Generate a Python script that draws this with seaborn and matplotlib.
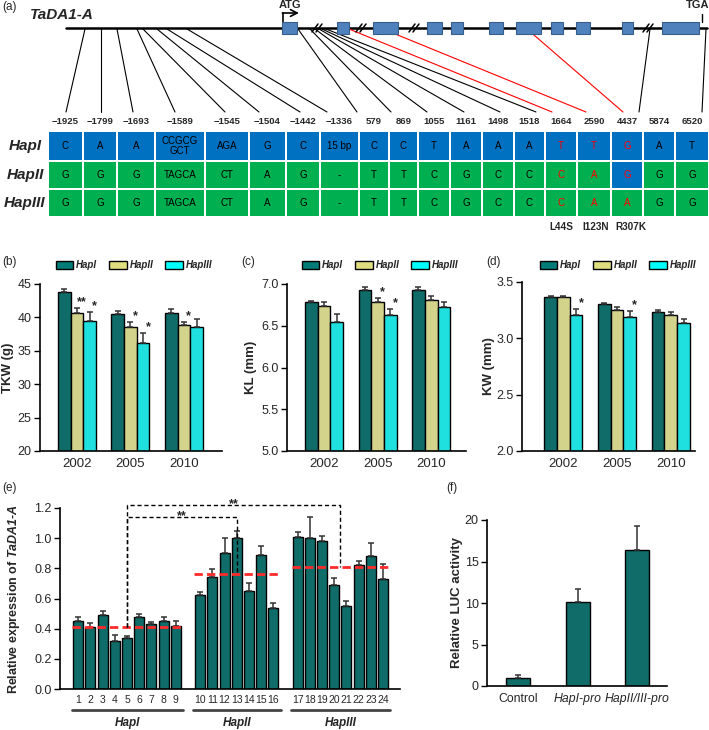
import numpy as np
import pandas as pd
import matplotlib
matplotlib.use('Agg')
import matplotlib.pyplot as plt
import matplotlib.transforms as mtransforms
from matplotlib.colors import ListedColormap
from matplotlib.patches import Patch, Rectangle
import seaborn as sns

sns.set_theme(style="ticks")
plt.rcParams['font.family'] = ['Liberation Sans', 'DejaVu Sans']
plt.rcParams['mathtext.fontset'] = 'custom'
plt.rcParams['mathtext.rm'] = 'Liberation Sans'
plt.rcParams['mathtext.it'] = 'Liberation Sans:italic'
plt.rcParams['mathtext.bf'] = 'Liberation Sans:bold'
plt.rcParams['mathtext.bfit'] = 'Liberation Sans:bold:italic'

# ---------------- data ----------------
# (a) gene structure and haplotype table
sites = ['\u22121925', '\u22121799', '\u22121693', '\u22121589', '\u22121545', '\u22121504',
         '\u22121442', '\u22121336', '579', '869', '1055', '1161', '1498', '1518',
         '1664', '2590', '4437', '5874', '6520']
site_on_gene = [85, 101, 117, 137, 143, 157, 167, 187, 298, 310, 315, 319, 322, 326,
                349, 383, 527, 650, 706]
site_line_end = [66, 101, 133, 175, 225, 259, 300, 327, 357, 391, 427, 464, 500, 536,
                 552, 586, 623, 639, 702]
exon_start = [282, 337, 373, 427, 451, 489, 516, 551, 576, 622, 662]
exon_end = [297, 349, 398, 442, 463, 503, 541, 563, 590, 633, 699]
gene_breaks = [317, 361, 414, 648]
col_edges = [48, 83, 117, 155, 205, 249, 286, 320, 359, 389, 418, 450, 482, 514, 545,
             577, 611, 643, 675, 709]
row_edges = [131, 161, 189, 217]
hap_names = ['HapI', 'HapII', 'HapIII']
alleles = [
    ['C', 'A', 'A', 'CCGCG\nGCT', 'AGA', 'G', 'C', '15 bp', 'C', 'C', 'T', 'A', 'A', 'A', 'T', 'T', 'G', 'A', 'T'],
    ['G', 'G', 'G', 'TAGCA', 'CT', 'A', 'G', '-', 'T', 'T', 'C', 'G', 'C', 'C', 'C', 'A', 'G', 'G', 'G'],
    ['G', 'G', 'G', 'TAGCA', 'CT', 'A', 'G', '-', 'T', 'T', 'C', 'G', 'C', 'C', 'C', 'A', 'A', 'G', 'G'],
]
cell_group = [
    [0] * 19,
    [1] * 16 + [0] + [1] * 2,
    [1] * 19,
]
coding_cols = [14, 15, 16]
aa_changes = ['L44S', 'I123N', 'R307K']

# (b)-(d) grain traits
years = ['2002', '2005', '2010']
haps = ['HapI', 'HapII', 'HapIII']
tkw_mean = {'HapI': [43.8, 40.5, 40.7], 'HapII': [40.7, 38.6, 38.8], 'HapIII': [39.5, 36.2, 38.5]}
tkw_err = {'HapI': [0.4, 0.5, 0.5], 'HapII': [0.7, 0.7, 0.5], 'HapIII': [1.3, 1.4, 1.2]}
kl_mean = {'HapI': [6.78, 6.93, 6.93], 'HapII': [6.74, 6.78, 6.81], 'HapIII': [6.54, 6.63, 6.72]}
kl_err = {'HapI': [0.02, 0.03, 0.03], 'HapII': [0.05, 0.05, 0.05], 'HapIII': [0.10, 0.07, 0.07]}
kw_mean = {'HapI': [3.365, 3.307, 3.233], 'HapII': [3.365, 3.254, 3.21], 'HapIII': [3.21, 3.19, 3.14]}
kw_err = {'HapI': [0.013, 0.006, 0.017], 'HapII': [0.013, 0.023, 0.023], 'HapIII': [0.05, 0.05, 0.035]}
tkw_stars = [('2002', 'HapII', '**'), ('2002', 'HapIII', '*'), ('2005', 'HapII', '*'),
             ('2005', 'HapIII', '*'), ('2010', 'HapII', '*')]
kl_stars = [('2005', 'HapII', '*'), ('2005', 'HapIII', '*')]
kw_stars = [('2002', 'HapIII', '*'), ('2005', 'HapIII', '*')]

# (e) expression in 24 accessions
expr_group = [0] * 9 + [1] * 7 + [2] * 8
expr_mean = [0.45, 0.41, 0.49, 0.32, 0.34, 0.48, 0.43, 0.45, 0.42,
             0.62, 0.74, 0.90, 1.00, 0.65, 0.89, 0.54,
             1.01, 1.00, 0.98, 0.69, 0.55, 0.82, 0.88, 0.73]
expr_err = [0.03, 0.025, 0.025, 0.04, 0.012, 0.015, 0.011, 0.025, 0.033,
            0.022, 0.054, 0.10, 0.045, 0.056, 0.055, 0.033,
            0.03, 0.14, 0.036, 0.045, 0.033, 0.03, 0.09, 0.10]
group_mean = [0.41, 0.765, 0.81]
# brackets: (left bar index, right position in bar units, left group, right group, height)
brackets = [(4, 13, 0, 1, 1.143), (4, 21.5, 0, 2, 1.223)]

# (f) promoter activity
luc_labels = ['Control', 'HapI-pro', 'HapII/III-pro']
luc_mean = [1.0, 10.15, 16.35]
luc_err = [0.3, 1.55, 2.95]

teal = '#007B77'
hap_colors = ['#007B77', '#E0DF80', '#00FFFF']
W, H = 709, 730

fig = plt.figure(figsize=(W / 100, H / 100), dpi=100)


def px_axes(x0, y0, x1, y1):
    return fig.add_axes([x0 / W, 1 - y1 / H, (x1 - x0) / W, (y1 - y0) / H])


def style_axes(ax, ylabel, label_px, fs=9.5):
    sns.despine(ax=ax)
    for s in ['left', 'bottom']:
        ax.spines[s].set_color('black')
        ax.spines[s].set_linewidth(1.2)
    ax.tick_params(axis='y', length=4, width=1, color='black', labelsize=9, pad=2)
    ax.tick_params(axis='x', length=0, labelsize=9.5, pad=5)
    ax.set_xlabel('')
    ax.set_ylabel(ylabel, fontsize=fs, fontweight='bold')
    tr = mtransforms.blended_transform_factory(fig.transFigure, ax.transAxes)
    ax.yaxis.set_label_coords(label_px / W, 0.5, transform=tr)


# ---------------- (a) ----------------
axa = px_axes(0, 0, W, 240)
axa.set_xlim(0, W)
axa.set_ylim(240, 0)
axa.axis('off')

gene_y = 28
axa.plot([66, 707], [gene_y, gene_y], color='black', lw=1.8, zorder=2)
for s, e in zip(exon_start, exon_end):
    axa.add_patch(Rectangle((s, 22), e - s, 12, facecolor='#4F81BD', edgecolor='#385D8A',
                            lw=0.8, zorder=4))
for b in gene_breaks:
    for dx in (-2, 2):
        axa.plot([b + dx - 3, b + dx + 3], [gene_y + 4, gene_y - 4], color='black', lw=1.1, zorder=5)
for i, (top, bot) in enumerate(zip(site_on_gene, site_line_end)):
    col = '#FF0000' if i in coding_cols else 'black'
    axa.plot([top, bot], [gene_y + 1, 112], color=col, lw=0.8, zorder=3)
    axa.text((col_edges[i] + col_edges[i + 1]) / 2, 121, sites[i], ha='center', va='center',
             fontsize=6.8, fontweight='bold')

# start / stop codons
axa.plot([283, 283], [22, 13], color='black', lw=1.2)
axa.annotate('', xy=(299, 13), xytext=(282.4, 13),
             arrowprops=dict(arrowstyle='->', lw=1.2, color='black', shrinkA=0, shrinkB=0))
axa.text(290, 5, 'ATG', ha='center', va='center', fontsize=8, fontweight='bold')
axa.plot([702, 702], [14, 22], color='black', lw=1.0)
axa.text(698, 5, 'TGA', ha='center', va='center', fontsize=8, fontweight='bold')
axa.text(30, 15, 'TaDA1-A', ha='left', va='center', fontsize=11, fontweight='bold', style='italic')

# haplotype table
axa.pcolormesh(col_edges, row_edges, np.array(cell_group),
               cmap=ListedColormap(['#0070C0', '#00B050']), vmin=0, vmax=1,
               edgecolors='white', linewidth=1.2, zorder=1)
for r, name in enumerate(hap_names):
    yc = (row_edges[r] + row_edges[r + 1]) / 2
    axa.text(25, yc, name, ha='center', va='center', fontsize=11, fontweight='bold', style='italic')
    for c, allele in enumerate(alleles[r]):
        xc = (col_edges[c] + col_edges[c + 1]) / 2
        axa.text(xc, yc, allele, ha='center', va='center', fontsize=7, linespacing=1.0,
                 color='#FF0000' if c in coding_cols else 'black', zorder=3)
for c, aa in zip(coding_cols, aa_changes):
    axa.text((col_edges[c] + col_edges[c + 1]) / 2 + (c - 14) * 2, 227, aa, ha='center',
             va='center', fontsize=7.2, fontweight='bold')


# ---------------- (b)-(d) ----------------
def trait_frame(means, errs):
    rows = []
    for h in haps:
        for j, y in enumerate(years):
            rows.append(dict(year=y, hap=h, value=means[h][j], err=errs[h][j]))
    return pd.DataFrame(rows)


def draw_trait(ax, means, errs, ylim, yticks, ylabel, label_px, stars, legend_px, xlim):
    df = trait_frame(means, errs)
    sns.barplot(data=df, x='year', y='value', hue='hap', order=years, hue_order=haps,
                palette=hap_colors, width=0.71, edgecolor='black', linewidth=1,
                errorbar=None, legend=False, ax=ax, zorder=2)
    tops = {}
    for h, cont in zip(haps, ax.containers):
        for y, bar in zip(years, cont):
            xc = bar.get_x() + bar.get_width() / 2
            m = means[h][years.index(y)]
            e = errs[h][years.index(y)]
            ax.errorbar(xc, m, yerr=[[0], [e]], fmt='none', ecolor='#333333',
                        elinewidth=1.1, capsize=2.2, capthick=1.1, zorder=3)
            tops[(y, h)] = (xc, m + e)
    for y, h, txt in stars:
        xc, top = tops[(y, h)]
        ax.text(xc + 0.09, top, txt, ha='center', va='bottom', fontsize=9, fontweight='bold')
    ax.set_ylim(*ylim)
    ax.set_yticks(yticks)
    ax.set_xlim(*xlim)
    style_axes(ax, ylabel, label_px)
    handles = [Patch(facecolor=c, edgecolor='black', label=h) for h, c in zip(haps, hap_colors)]
    ax.legend(handles=handles, loc='center', bbox_to_anchor=(legend_px / W, 1 - 265 / H),
              bbox_transform=fig.transFigure, ncol=3, frameon=False,
              prop={'weight': 'bold', 'style': 'italic', 'size': 7},
              handlelength=1.8, handleheight=0.9, handletextpad=0.3, columnspacing=1.2,
              borderaxespad=0)


axb = px_axes(40, 284, 222, 451)
draw_trait(axb, tkw_mean, tkw_err, (20, 45), [20, 25, 30, 35, 40, 45], 'TKW (g)', 14,
           tkw_stars, 134, (-0.69, 2.71))
axc = px_axes(287, 284, 466, 451)
draw_trait(axc, kl_mean, kl_err, (5, 7), [5.0, 5.5, 6.0, 6.5, 7.0], 'KL (mm)', 257,
           kl_stars, 380, (-0.69, 2.65))
axc.set_yticklabels(['5.0', '5.5', '6.0', '6.5', '7.0'])
axd = px_axes(522, 282, 695, 451)
draw_trait(axd, kw_mean, kw_err, (2, 3.5), [2.0, 2.5, 3.0, 3.5], 'KW (mm)', 495,
           kw_stars, 618, (-0.77, 2.45))
axd.set_yticklabels(['2.0', '2.5', '3.0', '3.5'])

# ---------------- (e) ----------------
axe = px_axes(60, 508, 400, 689)
expr_pos = [i + g for i, g in enumerate(expr_group)]
sns.barplot(x=expr_pos, y=expr_mean, native_scale=True, width=0.82, color=teal,
            edgecolor='black', linewidth=1, errorbar=None, ax=axe, zorder=2)
axe.errorbar(expr_pos, expr_mean, yerr=[np.zeros(len(expr_err)), expr_err], fmt='none',
             ecolor='#333333', elinewidth=1.1, capsize=2.5, capthick=1.1, zorder=3)
axe.set_ylim(0, 1.2)
axe.set_yticks([0, 0.2, 0.4, 0.6, 0.8, 1.0, 1.2])
axe.set_yticklabels(['0.0', '0.2', '0.4', '0.6', '0.8', '1.0', '1.2'])
axe.set_xlim(-1.5, 26.4)
axe.set_xticks(expr_pos)
axe.set_xticklabels([str(i + 1) for i in range(len(expr_pos))])
style_axes(axe, r'Relative expression of $\mathbfit{TaDA1}$-$\mathbfit{A}$', 22, fs=9)
axe.tick_params(axis='x', labelsize=7.5, pad=4)

tr_e = mtransforms.blended_transform_factory(axe.transData, axe.transAxes)
for g, name in enumerate(hap_names):
    members = [p for p, gg in zip(expr_pos, expr_group) if gg == g]
    x0, x1 = members[0] - 0.5, members[-1] + 0.5
    axe.hlines(group_mean[g], x0, x1, colors='#FF2A2A', linestyles=(0, (3, 1.5)), lw=2, zorder=6)
    axe.plot([x0 - 0.05, x1 + 0.1], [-0.116, -0.116], transform=tr_e, clip_on=False,
             color='#444444', lw=2)
    axe.text((x0 + x1) / 2, -0.19, name, transform=tr_e, ha='center', va='center',
             fontsize=8.5, fontweight='bold', style='italic')
for left, right, g0, g1, level in brackets:
    axe.plot([expr_pos[left], expr_pos[left], right, right],
             [group_mean[g0], level, level, group_mean[g1]], color='black', lw=1,
             ls=(0, (3, 2)), clip_on=False, zorder=7)
    axe.text((expr_pos[left] + right) / 2, level - 0.018, '**', ha='center', va='baseline',
             fontsize=9, fontweight='bold', zorder=8)

# ---------------- (f) ----------------
axf = px_axes(487, 520, 667, 686)
sns.barplot(x=luc_labels, y=luc_mean, color=teal, width=0.4, edgecolor='black',
            linewidth=1, errorbar=None, ax=axf, zorder=2)
axf.errorbar(range(len(luc_mean)), luc_mean, yerr=[np.zeros(len(luc_err)), luc_err],
             fmt='none', ecolor='#333333', elinewidth=1.1, capsize=2.5, capthick=1.1, zorder=3)
axf.set_ylim(0, 20)
axf.set_yticks([0, 5, 10, 15, 20])
axf.set_xlim(-0.52, 2.5)
style_axes(axf, 'Relative LUC activity', 463)
axf.tick_params(axis='x', labelsize=8.8)
for lab in axf.get_xticklabels()[1:]:
    lab.set_style('italic')

# panel letters
for letter, (px, py) in zip('abcdef', [(2, 7), (2, 262), (241, 262), (486, 262), (2, 488), (446, 488)]):
    fig.text(px / W, 1 - py / H, f'({letter})', ha='left', va='center', fontsize=8.5)

fig.savefig('out.png', dpi=100)
